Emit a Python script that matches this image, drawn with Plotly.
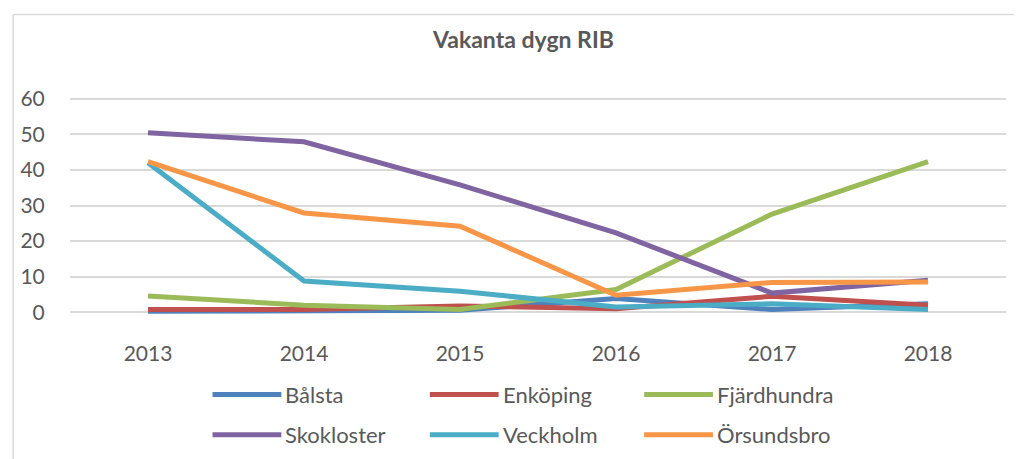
import plotly.graph_objects as go

years = ["2013", "2014", "2015", "2016", "2017", "2018"]
series_names = ["Bålsta", "Enköping", "Fjärdhundra", "Skokloster", "Veckholm", "Örsundsbro"]
balsta = [0.3, 0.3, 0.6, 3.9, 0.8, 2.4]
enkoping = [0.8, 0.8, 1.8, 1.0, 4.5, 2.0]
fjardhundra = [4.6, 2.0, 0.8, 6.4, 27.6, 42.3]
skokloster = [50.4, 47.9, 35.8, 22.3, 5.4, 9.0]
veckholm = [42.0, 8.8, 5.9, 1.5, 2.4, 0.8]
orsundsbro = [42.3, 27.9, 24.2, 4.8, 8.4, 8.5]
colors = ["#4F81BD", "#C0504D", "#9BBB59", "#8064A2", "#4BACC6", "#F79646"]
y_ticks = [0, 10, 20, 30, 40, 50, 60]

values = [balsta, enkoping, fjardhundra, skokloster, veckholm, orsundsbro]
FONT = "Lato, 'Open Sans', sans-serif"
GREY = "#595959"

fig = go.Figure()
for name, vals, col in zip(series_names, values, colors):
    fig.add_trace(go.Scatter(x=years, y=vals, name=name, mode="lines",
                             line=dict(color=col, width=5), showlegend=False))

OFF = 8  # page body margin
W, H = 1022 - OFF, 459 - OFF
L, R = 67 - OFF, 1006 - OFF
T, B = 88.35 - OFF, 322.65 - OFF
pw, ph = R - L, B - T

def px(x):
    return (x - OFF - L) / pw

def py(y):
    return (B - (y - OFF)) / ph

shapes = [
    dict(type="line", xref="paper", yref="paper", x0=px(10), x1=px(10), y0=py(15), y1=py(470),
         line=dict(color="#D9D9D9", width=1.5)),
    dict(type="line", xref="paper", yref="paper", x0=px(10), x1=px(1030), y0=py(15), y1=py(15),
         line=dict(color="#D9D9D9", width=1.5)),
]
annotations = [
    dict(text="<b>Vakanta dygn RIB</b>", xref="paper", yref="paper", x=px(521), y=py(39),
         showarrow=False, font=dict(family=FONT, size=23, color=GREY), xanchor="center", yanchor="middle"),
]
# manual legend
col_x = [210, 428, 643]
row_y = [394, 434]
for i, (name, col) in enumerate(zip(series_names, colors)):
    cx = col_x[i % 3]
    ry = row_y[i // 3]
    shapes.append(dict(type="line", xref="paper", yref="paper", x0=px(cx), x1=px(cx + 69),
                       y0=py(ry), y1=py(ry), line=dict(color=col, width=5)))
    annotations.append(dict(text=name, xref="paper", yref="paper", x=px(cx + 71), y=py(ry),
                            showarrow=False, xanchor="left", yanchor="middle",
                            font=dict(family=FONT, size=22, color=GREY)))

fig.update_layout(
    width=W, height=H,
    margin=dict(l=L, r=W - R, t=T, b=H - B, pad=0),
    paper_bgcolor="white", plot_bgcolor="white",
    shapes=shapes, annotations=annotations,
    xaxis=dict(type="category", range=[-0.5, 5.5], showgrid=False, zeroline=False, showline=False,
               ticks="outside", ticklen=12, tickcolor="rgba(0,0,0,0)",
               tickfont=dict(family=FONT, size=21, color=GREY)),
    yaxis=dict(range=[-3, 63], tickvals=y_ticks, showgrid=True, gridcolor="#D9D9D9", gridwidth=1.5,
               zeroline=False, showline=False, ticks="outside", ticklen=20, tickcolor="rgba(0,0,0,0)",
               tickfont=dict(family=FONT, size=21, color=GREY)),
    showlegend=False,
)

fig.write_html("out.html")
